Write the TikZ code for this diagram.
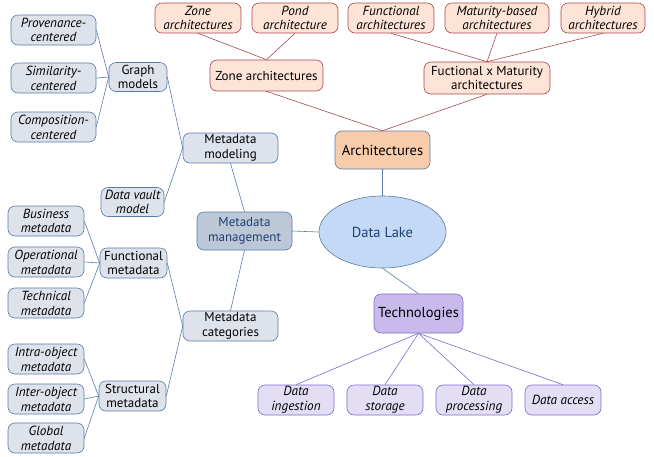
\documentclass[tikz,border=0pt]{standalone}
\usepackage{fontspec}
\setmainfont{PT Sans}
\usetikzlibrary{shapes.geometric}
\definecolor{bline}{HTML}{5B7BA8}
\definecolor{bfill}{HTML}{DEE3EB}
\definecolor{mfill}{HTML}{BCC7D7}
\definecolor{dtext}{HTML}{1F3F73}
\definecolor{lakefill}{HTML}{C3D9F6}
\definecolor{rline}{HTML}{A8484F}
\definecolor{ofill}{HTML}{FDE4D7}
\definecolor{archfill}{HTML}{F8CCAA}
\definecolor{pline}{HTML}{7F6AD2}
\definecolor{pfill}{HTML}{E4DEF5}
\definecolor{techfill}{HTML}{C9BAEC}
\tikzset{
  base/.style={rounded corners=7pt, align=center, inner sep=1pt, font=\fontsize{13}{14.5}\selectfont, line width=0.6pt},
  bleaf/.style={base, draw=bline, fill=bfill, font=\fontsize{13.2}{14.8}\selectfont\itshape, minimum width=76pt, minimum height=30pt},
  bmid/.style={base, draw=bline, fill=bfill, minimum height=30pt},
  oleaf/.style={base, draw=rline, fill=ofill, font=\fontsize{13.2}{14.8}\selectfont\itshape, minimum width=86pt, minimum height=30pt},
  omid/.style={base, draw=rline, fill=ofill, minimum height=31pt},
  pleaf/.style={base, draw=pline, fill=pfill, font=\fontsize{13.2}{14.8}\selectfont\itshape, minimum width=76pt, minimum height=30pt},
  bcon/.style={draw=bline, line width=0.6pt},
  rcon/.style={draw=rline, line width=0.6pt},
  pcon/.style={draw=pline, line width=0.6pt},
}
\begin{document}
\begin{tikzpicture}[x=1pt,y=-1pt]
\useasboundingbox (0,0) rectangle (654,456);
% left branch
\node[bleaf, minimum width=85pt] (prov) at (53.5,30) {Provenance-\\centered};
\node[bleaf, minimum width=85pt] (simi) at (53.5,78) {Similarity-\\centered};
\node[bleaf, minimum width=85pt] (comp) at (53.5,127) {Composition-\\centered};
\node[bmid, minimum width=58pt, minimum height=29pt] (graph) at (138,77) {Graph\\models};
\node[bmid, minimum width=95pt] (mmod) at (230.5,148) {Metadata\\modeling};
\node[bleaf, minimum width=63pt, minimum height=29pt] (vault) at (132.5,202) {Data vault\\model};
\node[bleaf] (bus) at (46,221) {Business\\metadata};
\node[bleaf] (oper) at (46,262) {Operational\\metadata};
\node[bleaf] (tech) at (46,303) {Technical\\metadata};
\node[bmid, minimum width=67pt] (func) at (133.5,263) {Functional\\metadata};
\node[base, draw=bline, fill=mfill, text=dtext, minimum width=95pt, minimum height=38pt] (mman) at (244.5,231) {Metadata\\management};
\node[bmid, minimum width=95pt] (mcat) at (230.5,326) {Metadata\\categories};
\node[bleaf] (intra) at (46,359) {Intra-object\\metadata};
\node[bleaf] (inter) at (46,399) {Inter-object\\metadata};
\node[bleaf] (glob) at (46,438) {Global\\metadata};
\node[bmid, minimum width=67pt] (struc) at (132.5,396) {Structural\\metadata};
% centre
\node[ellipse, draw=bline, fill=lakefill, text=dtext, line width=0.6pt, minimum width=127pt, minimum height=72pt, inner sep=0pt, font=\fontsize{14.5}{16}\selectfont] (lake) at (382.5,232) {Data Lake};
% architectures
\node[base, draw=bline, fill=archfill, minimum width=95pt, minimum height=38pt, font=\fontsize{14.5}{16}\selectfont] (arch) at (382.5,150) {Architectures};
\node[omid, minimum width=113pt] (zonem) at (266.5,75.5) {Zone architectures};
\node[omid, minimum width=126pt, minimum height=32pt] (fxm) at (487,78) {Fuctional x Maturity\\architectures};
\node[oleaf] (zone) at (198,18) {Zone\\architectures};
\node[oleaf] (pond) at (295,18) {Pond\\architecture};
\node[oleaf] (funa) at (391,18) {Functional\\architectures};
\node[oleaf, minimum width=104pt] (matu) at (497,18) {Maturity-based\\architectures};
\node[oleaf, minimum width=84pt] (hyb) at (603,18) {Hybrid\\architectures};
% technologies
\node[base, draw=pline, fill=techfill, minimum width=89pt, minimum height=39pt, font=\fontsize{14.5}{16}\selectfont] (techn) at (418.5,313.5) {Technologies};
\node[pleaf] (ing) at (296,400) {Data\\ingestion};
\node[pleaf] (sto) at (385,400) {Data\\storage};
\node[pleaf] (proc) at (474,400) {Data\\processing};
\node[pleaf] (acc) at (563,400) {Data access};
% connectors left
\draw[bcon] (prov.east) -- (graph.west);
\draw[bcon] (simi.east) -- (graph.west);
\draw[bcon] (comp.east) -- (graph.west);
\draw[bcon] (graph.east) -- (mmod.west);
\draw[bcon] (vault.east) -- (mmod.west);
\draw[bcon] (mmod.south) -- (mman.north);
\draw[bcon] (mman.south) -- (mcat.north);
\draw[bcon] (mman.east) -- (lake.west);
\draw[bcon] (bus.east) -- (func.west);
\draw[bcon] (oper.east) -- (func.west);
\draw[bcon] (tech.east) -- (func.west);
\draw[bcon] (func.east) -- (mcat.west);
\draw[bcon] (struc.east) -- (mcat.west);
\draw[bcon] (intra.east) -- (struc.west);
\draw[bcon] (inter.east) -- (struc.west);
\draw[bcon] (glob.east) -- (struc.west);
% connectors top
\draw[bcon] (lake.north) -- (arch.south);
\draw[rcon] (arch.north) -- (zonem.south);
\draw[rcon] (arch.north) -- (fxm.south);
\draw[rcon] (zonem.north) -- (zone.south);
\draw[rcon] (zonem.north) -- (pond.south);
\draw[rcon] (fxm.north) -- (funa.south);
\draw[rcon] (fxm.north) -- (matu.south);
\draw[rcon] (fxm.north) -- (hyb.south);
% connectors bottom
\draw[bcon] (lake.south) -- (techn.north);
\draw[pcon] (techn.south) -- (ing.north);
\draw[pcon] (techn.south) -- (sto.north);
\draw[pcon] (techn.south) -- (proc.north);
\draw[pcon] (techn.south) -- (acc.north);
\end{tikzpicture}
\end{document}
